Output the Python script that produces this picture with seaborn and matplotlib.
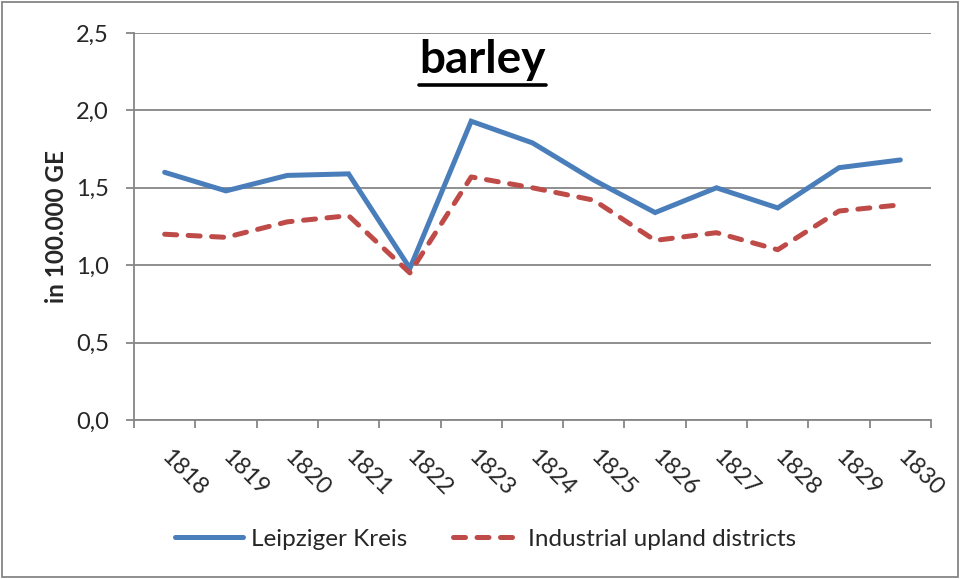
import matplotlib
matplotlib.use("Agg")
import matplotlib.pyplot as plt
import seaborn as sns
import pandas as pd
import numpy as np
from matplotlib.ticker import FixedLocator, FuncFormatter
from matplotlib.lines import Line2D

years = ["1818", "1819", "1820", "1821", "1822", "1823", "1824",
         "1825", "1826", "1827", "1828", "1829", "1830"]
leipziger = [1.60, 1.48, 1.58, 1.59, 0.98, 1.93, 1.79, 1.55, 1.34, 1.50, 1.37, 1.63, 1.68]
industrial = [1.20, 1.18, 1.28, 1.32, 0.95, 1.57, 1.50, 1.42, 1.16, 1.21, 1.10, 1.35, 1.39]
series_names = ["Leipziger Kreis", "Industrial upland districts"]
y_ticks = [0.0, 0.5, 1.0, 1.5, 2.0, 2.5]

sns.set_style("white")
plt.rcParams['font.family'] = ['Lato', 'DejaVu Sans']

df = pd.DataFrame({
    "year": years * 2,
    "value": leipziger + industrial,
    "series": [series_names[0]] * len(years) + [series_names[1]] * len(years),
})

W, H = 961, 579
fig = plt.figure(figsize=(W / 100, H / 100), dpi=100)
ax = fig.add_axes([134 / W, 1 - 420 / H, (931 - 134) / W, (420 - 33) / H])

LW = 3.6
DASH = (2.4, 2.3)
blue, red = "#4A7EBB", "#BE4B48"
palette = {series_names[0]: blue, series_names[1]: red}
sns.lineplot(data=df, x="year", y="value", hue="series", style="series",
             palette=palette, dashes={series_names[0]: "", series_names[1]: DASH},
             linewidth=LW, ax=ax, sort=False, legend=False)
for line in ax.get_lines():
    line.set_solid_capstyle("round")
    line.set_dash_capstyle("round")
    line.set_solid_joinstyle("miter")
    line.set_dash_joinstyle("round")

ax.set_xlim(-0.5, len(years) - 0.5)
ax.set_ylim(0, 2.5)
ax.set_yticks(y_ticks)
ax.yaxis.set_major_formatter(FuncFormatter(lambda v, p: f"{v:.1f}".replace(".", ",")))
ax.grid(axis="y", color="#868686", linewidth=1.3)
ax.grid(axis="x", visible=False)
for s in ["top", "right"]:
    ax.spines[s].set_visible(False)
for s in ["left", "bottom"]:
    ax.spines[s].set_color("#868686")
    ax.spines[s].set_linewidth(1.3)

ax.tick_params(axis="y", which="major", length=6, width=1.3, color="#868686",
               labelsize=17, pad=12, left=True)
ax.set_xticks(range(len(years)))
ax.set_xticklabels(years)
ax.xaxis.set_minor_locator(FixedLocator(np.arange(-0.5, len(years), 1.0)))
ax.tick_params(axis="x", which="minor", length=6, width=1.3, color="#868686", bottom=True)
ax.tick_params(axis="x", which="major", length=0, labelsize=17, pad=24, bottom=True)
for lab in ax.get_xticklabels():
    lab.set_rotation(-45)
    lab.set_ha("left")
    lab.set_va("center")
    lab.set_rotation_mode("anchor")

ax.set_xlabel("")
ax.set_ylabel("in 100.000 GE", fontsize=17.5, fontweight="bold", labelpad=6)

t = fig.text(482.5 / W, 1 - 73 / H, "barley", fontsize=33, fontweight="bold",
             ha="center", va="baseline", color="black")
fig.canvas.draw()
bb = t.get_window_extent()
fig.add_artist(Line2D([bb.x0 / W, bb.x1 / W], [1 - 85 / H, 1 - 85 / H],
                      color="black", linewidth=2.6, transform=fig.transFigure))

handles = [Line2D([], [], color=blue, linewidth=LW, solid_capstyle="round"),
           Line2D([], [], color=red, linewidth=LW, dashes=DASH, dash_capstyle="round")]
fig.legend(handles, series_names, loc="center", bbox_to_anchor=(486 / W, 1 - 539 / H),
           ncol=2, frameon=False, fontsize=17.5, handlelength=2.8, columnspacing=1.9,
           handletextpad=0.3)

fig.add_artist(plt.Rectangle((2 / W, 2 / H), 956 / W, 575 / H, fill=False,
                             edgecolor="#868686", linewidth=1.3, transform=fig.transFigure))

fig.savefig("out.png", dpi=100)
